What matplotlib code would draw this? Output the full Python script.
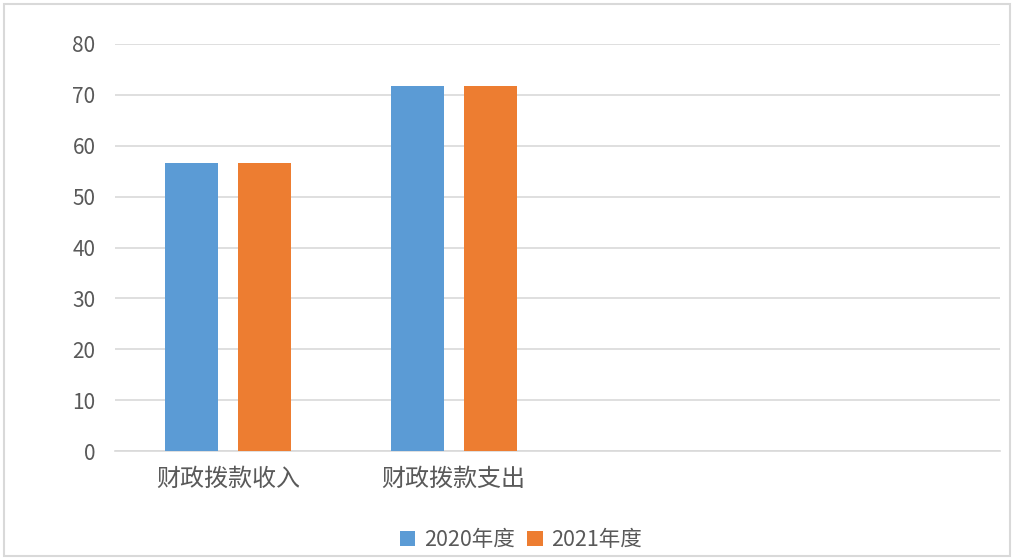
import matplotlib
matplotlib.use('Agg')
import matplotlib.pyplot as plt
import numpy as np
from matplotlib.patches import Rectangle

plt.rcParams['font.family'] = ['Noto Sans CJK SC', 'DejaVu Sans']

categories = ["财政拨款收入", "财政拨款支出"]
series_names = ["2020年度", "2021年度"]
values_2020 = [56.6, 71.8]
values_2021 = [56.6, 71.8]
colors = ["#5B9BD5", "#ED7D31"]
yticks = [0, 10, 20, 30, 40, 50, 60, 70, 80]

fig = plt.figure(figsize=(10.14, 5.58), dpi=100)
ax = fig.add_axes([115 / 1014, 1 - 451 / 558, 885 / 1014, 407 / 558])

x = np.arange(len(categories))
width = 0.235
shift = 0.162
ax.bar(x - shift, values_2020, width, color=colors[0], label=series_names[0], zorder=3)
ax.bar(x + shift, values_2021, width, color=colors[1], label=series_names[1], zorder=3)

ax.set_xlim(-0.5, 3.42)
ax.set_ylim(0, 80)
ax.set_yticks(yticks)
ax.set_yticklabels([str(v) for v in yticks], fontsize=15, color="#595959")
ax.set_xticks(x)
ax.set_xticklabels(categories, fontsize=17.3, color="#595959")
ax.tick_params(axis='both', length=0)
ax.tick_params(axis='y', pad=14)
ax.tick_params(axis='x', pad=11)
ax.grid(axis='y', color="#D9D9D9", linewidth=1.2, zorder=0)
for side in ["top", "right", "left"]:
    ax.spines[side].set_visible(False)
ax.spines["bottom"].set_color("#D9D9D9")
ax.spines["bottom"].set_linewidth(1.2)

fig.legend(loc='center', bbox_to_anchor=(521 / 1014, 1 - 540 / 558), ncol=2, frameon=False,
           fontsize=15.5, handlelength=0.7, handleheight=0.7, handletextpad=0.4, columnspacing=0.6,
           labelcolor="#595959")

fig.patches.append(Rectangle((0.004, 0.004), 0.992, 0.988, transform=fig.transFigure,
                             fill=False, edgecolor="#D9D9D9", linewidth=1.5))

fig.savefig("out.png", dpi=100)
